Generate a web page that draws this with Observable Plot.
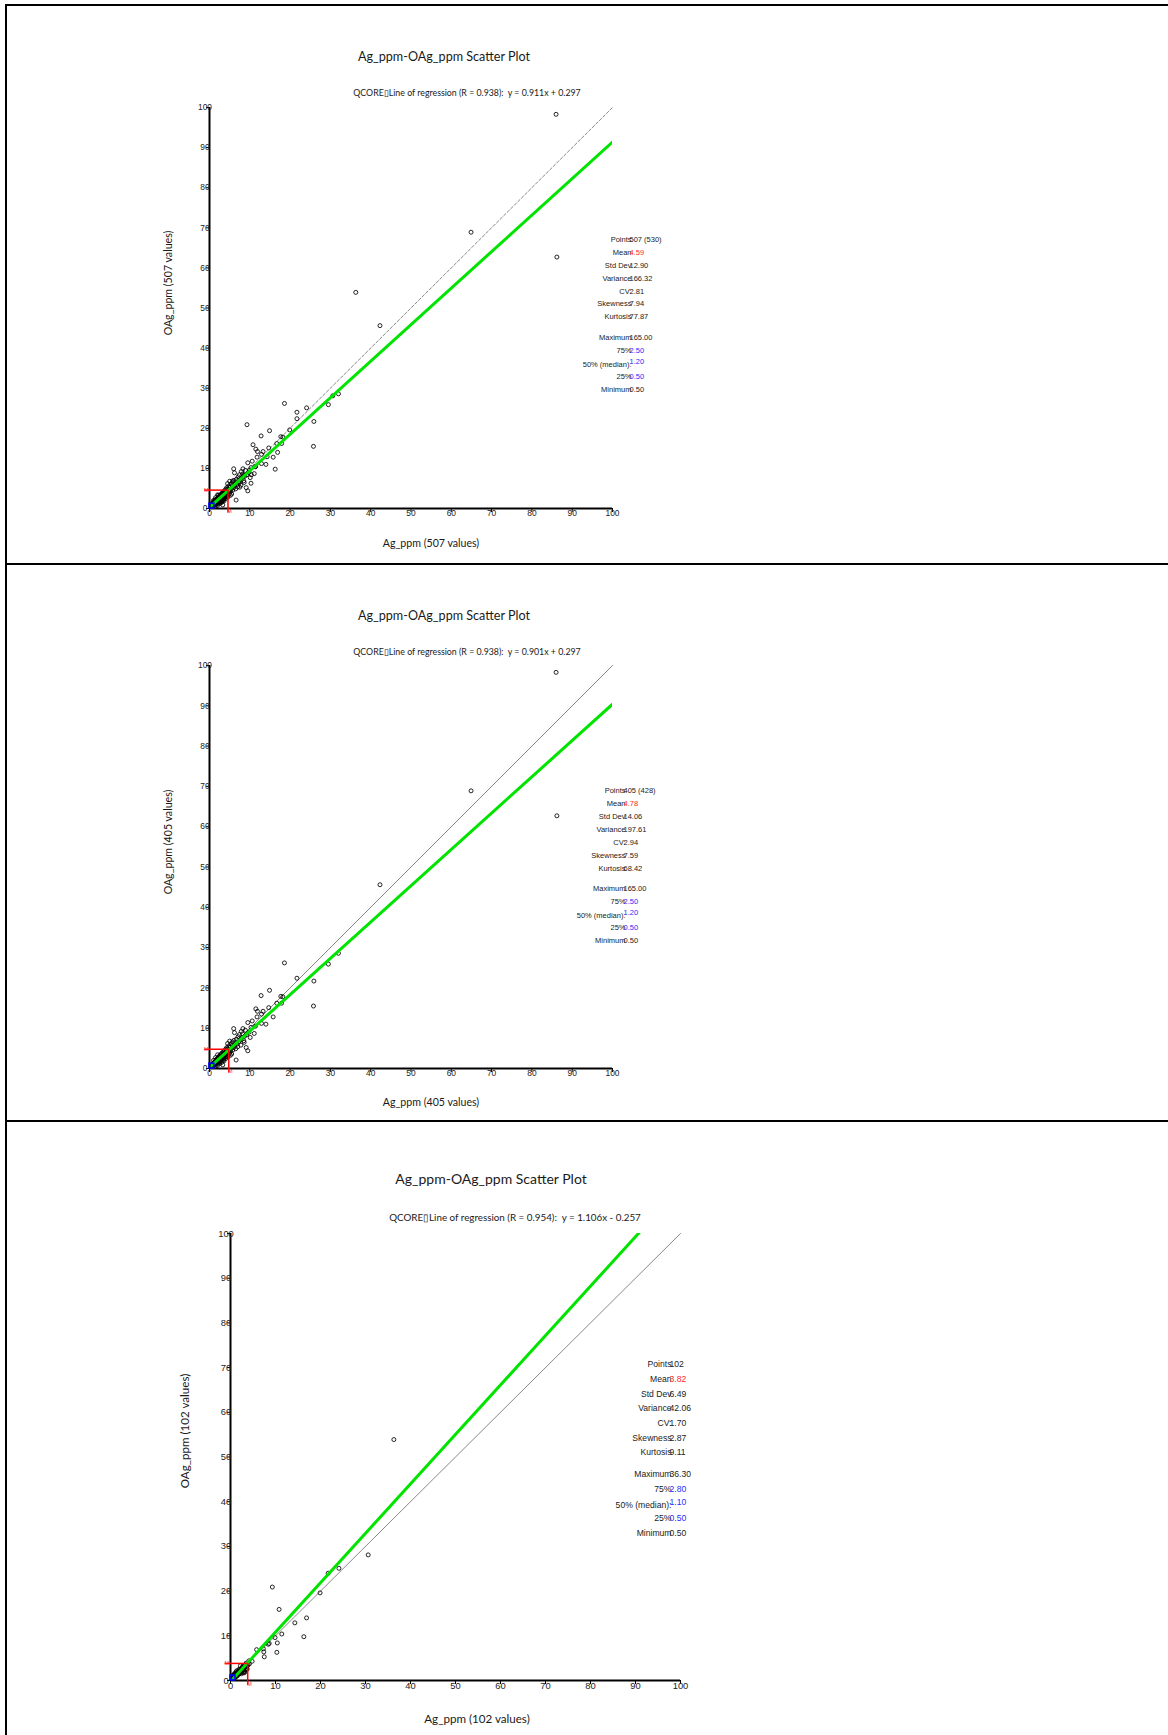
<!DOCTYPE html>
<html><head><meta charset="utf-8">
<script src="https://cdn.jsdelivr.net/npm/d3@7"></script>
<script src="https://cdn.jsdelivr.net/npm/@observablehq/plot@0.6"></script>
<style>
body{margin:0;background:#fff;width:1168px;height:1735px;position:relative;overflow:hidden;}
.abs{position:absolute;white-space:pre;line-height:1;}
.t{font-family:Lato,"Open Sans",sans-serif;color:#1a1a1a;transform:translate(-50%,-50%);}
.ty{font-family:Lato,"Open Sans",sans-serif;color:#1a1a1a;transform:translate(-50%,-50%) rotate(-90deg);}
.ln{position:absolute;background:#000;z-index:10;}
.svgwrap{position:absolute;left:0;}
</style></head><body>
<script>
// ---------------- DATA ----------------
const ticks = [0,10,20,30,40,50,60,70,80,90,100];
const diagonal = [0,100];

// Set A (the 405 values kept in panel 2), [Ag_ppm, OAg_ppm]
const setA_outliers = [
 [86.0,98.3],[64.9,68.9],[86.2,62.7],[42.3,45.6],[32.0,28.6],[29.5,25.9],[18.6,26.2],
 [21.7,22.4],[25.9,21.7],[25.8,15.5],[14.9,19.4],[12.8,18.1],[17.7,17.9],[18.2,17.8],
 [16.7,16.2],[17.9,16.2],[15.8,12.8],[11.5,14.8],[11.9,14.2],[14.7,15.1],[13.3,14.2],
 [12.9,13.5],[11.8,12.8],[10.6,11.8],[9.5,11.4],[12.9,11.2],[14.0,11.0],[11.1,8.7],
 [10.1,7.7],[9.1,5.2],[9.5,4.4],[6.0,9.9],[6.2,8.9],[8.3,9.9],[8.6,6.5],[6.6,2.1],[3.3,0.9]
];
const setA_cluster = [
 [0.5,0.5],[0.5,0.7],[0.6,0.5],[0.6,0.8],[0.7,0.6],[0.7,1.0],[0.8,0.7],[0.8,1.1],[0.9,0.8],[0.9,1.2],
 [1.0,0.9],[1.0,1.3],[1.1,0.8],[1.1,1.2],[1.2,1.0],[1.2,1.5],[1.3,1.1],[1.3,1.6],[1.4,1.2],[1.4,1.8],
 [1.5,1.0],[1.5,1.4],[1.6,1.9],[1.6,1.3],[1.7,1.6],[1.7,2.2],[1.8,1.4],[1.8,2.0],[1.9,1.7],[1.9,2.4],
 [2.0,1.5],[2.0,2.1],[2.1,1.8],[2.1,2.6],[2.2,2.0],[2.2,1.4],[2.3,2.4],[2.3,2.9],[2.4,1.9],[2.4,2.6],
 [2.5,2.2],[2.5,3.1],[2.6,1.7],[2.6,2.7],[2.7,2.3],[2.7,3.3],[2.8,2.0],[2.8,2.9],[2.9,2.5],[2.9,3.6],
 [3.0,2.2],[3.0,3.0],[3.1,3.8],[3.2,2.6],[3.3,3.4],[3.4,2.1],[3.4,4.1],[3.5,3.0],[3.6,3.7],[3.6,2.4],
 [3.7,4.4],[3.8,3.3],[3.9,2.8],[3.9,4.0],[4.0,4.8],[4.1,3.5],[4.2,3.0],[4.2,4.4],[4.3,5.2],[4.4,3.8],
 [4.5,4.9],[4.6,3.3],[4.7,4.2],[4.8,5.6],[4.9,4.6],[5.0,3.8],[5.1,5.3],[5.2,4.3],[5.3,6.1],[5.4,4.9],
 [5.5,3.6],[5.6,5.6],[5.7,6.6],[5.8,4.6],[6.0,5.2],[6.1,7.0],[6.3,5.8],[6.4,6.4],[6.5,4.9],[6.7,7.3],
 [6.8,6.0],[7.0,5.4],[7.1,7.9],[7.3,6.7],[7.4,8.4],[7.6,7.1],[7.8,5.8],[7.9,9.2],[8.0,7.6],[8.2,8.6],
 [8.5,6.9],[8.7,8.0],[8.9,9.5],[9.2,8.4],[9.8,9.0],[10.3,10.2],[11.4,10.5],[1.0,2.0],[1.5,2.7],[2.0,3.4],
 [1.5,0.6],[2.0,0.8],[2.5,1.2],[3.0,1.5],[3.6,1.9],[4.1,2.5],[4.6,2.9],[5.2,3.3],[4.5,6.2],[5.0,6.8]
];
// Set B (the 102 values of panel 3)
const setB_outliers = [
 [36.3,53.9],[30.6,28.1],[24.1,25.1],[21.7,24.0],[19.9,19.6],[9.3,20.9],[10.8,15.9],[16.9,14.0],
 [14.3,12.9],[11.4,10.4],[16.3,9.8],[9.9,9.6],[10.4,8.4],[10.3,6.3],[8.4,8.1],[8.6,8.3],[7.4,6.4],
 [7.5,5.3],[7.3,7.1],[5.8,6.9],[4.8,4.3]
];
const setB_cluster = [
 [0.5,0.5],[0.5,0.6],[0.5,0.8],[0.6,0.5],[0.6,0.7],[0.7,0.9],[0.7,0.5],[0.8,0.6],[0.8,1.0],[0.9,0.7],
 [0.9,1.1],[1.0,0.8],[1.0,1.2],[1.0,0.6],[1.1,1.0],[1.1,1.4],[1.2,0.9],[1.2,1.3],[1.3,1.1],[1.3,1.6],
 [1.4,1.2],[1.5,1.7],[1.5,1.0],[1.6,1.4],[1.7,1.9],[1.8,1.5],[1.9,2.1],[2.0,1.6],[2.1,2.4],[2.2,3.3],
 [2.2,1.8],[2.4,2.6],[2.5,2.0],[2.6,2.9],[2.8,1.8],[2.8,2.5],[3.0,3.4],[3.1,2.2],[3.3,3.0],[3.5,3.9],
 [3.6,2.7],[3.8,3.3],[0.5,1.0],[0.6,1.2],[0.8,1.4],[1.0,1.6],[1.2,1.9],[1.4,2.2],[0.6,0.6],[0.7,0.7],
 [0.8,0.8],[0.9,0.9],[1.1,1.1],[1.2,1.2],[1.3,1.3],[1.4,1.4],[1.6,1.6],[1.8,1.8],[2.0,2.0],[2.3,2.1],
 [2.6,2.4],[2.9,2.7],[3.2,1.9],[3.4,2.4],[1.9,2.5],[3.0,1.7],[3.7,2.5],[2.7,3.1],[1.6,2.0],[2.4,1.5],
 [3.9,3.6],[4.1,4.4],[0.5,0.7],[0.7,0.6],[1.1,0.9],[1.7,1.3],[2.1,1.7],[2.5,2.8],[3.3,3.5],[3.6,3.2],[4.2,3.7]
];

const titles = ["Ag_ppm-OAg_ppm Scatter Plot","Ag_ppm-OAg_ppm Scatter Plot","Ag_ppm-OAg_ppm Scatter Plot"];
const valueCounts = [507, 405, 102];
const regR = [0.938, 0.938, 0.954];
const regSlope = [0.911, 0.901, 1.106];
const regIntercept = [0.297, 0.297, -0.257];

const statLabels = ["Points","Mean","Std Dev","Variance","CV:","Skewness","Kurtosis","Maximum","75%","50% (median):","25%","Minimum"];
const statValues1 = ["507 (530)","4.59","12.90","166.32","2.81","7.94","77.87","165.00","2.50","1.20","0.50","0.50"];
const statValues2 = ["405 (428)","4.78","14.06","197.61","2.94","7.59","68.42","165.00","2.50","1.20","0.50","0.50"];
const statValues3 = ["102","3.82","6.49","42.06","1.70","2.87","9.11","36.30","2.80","1.10","0.50","0.50"];
const statKind = ["n","mean","n","n","n","n","n","n","q","q","q","n"];
const means = [4.59, 4.78, 3.82];
const medians = [1.20, 1.20, 1.10];

// ---------------- LAYOUT ----------------
const W = 1168;
const layouts = [
 {svgTop:6, svgH:557, f:{l:209,r:612,t:107,b:508}, title:[444,57,12.6], sub:[467,93,8.8],
  yl:[168,283,10.6], xl:[431,543,10.6], tick:8.4, st:{dl:422,dv:420,dy0:132,step:12.9,gap:7.7,fs:7.5}, dash:"3,2"},
 {svgTop:565, svgH:555, f:{l:209,r:612,t:665,b:1068}, title:[444,616,12.6], sub:[467,652,8.8],
  yl:[168,842,10.6], xl:[431,1102,10.6], tick:8.4, st:{dl:416,dv:414,dy0:125,step:13,gap:7,fs:7.5}, dash:null},
 {svgTop:1122, svgH:613, f:{l:230,r:680,t:1233,b:1680}, title:[491,1179,14], sub:[515,1218,9.8],
  yl:[185,1431,11.6], xl:[477,1719,11.6], tick:9.4, st:{dl:441,dv:439,dy0:131,step:14.67,gap:7.3,fs:8.6}, dash:null}
];

const setA = setA_outliers.concat(setA_cluster);
const setB = setB_outliers.concat(setB_cluster);
const pointSets = [setA.concat(setB), setA, setB];
const statSets = [statValues1, statValues2, statValues3];

function addDiv(cls, text, x, y, size){
  const d = document.createElement("div");
  d.className = "abs " + cls;
  d.textContent = text;
  d.style.left = x + "px"; d.style.top = y + "px"; d.style.fontSize = size + "px";
  document.body.appendChild(d);
}

layouts.forEach((L, i) => {
  const f = L.f;
  const pts = pointSets[i];
  const a = regSlope[i], b = regIntercept[i];
  const reg = diagonal.map(x => ({x, y: a * x + b}));
  const m = means[i], md = medians[i];
  const sv = statSets[i];
  const st = L.st;
  const statMarks = [];
  statLabels.forEach((lab, k) => {
    const dy = st.dy0 + k * st.step + (k >= 7 ? st.gap : 0);
    const isMed = k === 9;
    statMarks.push(Plot.text([lab], {frameAnchor:"top-left", dx: st.dl, dy: dy + (isMed ? 1.5 : 0),
      text: d => d, textAnchor:"end", lineAnchor:"middle", fontSize: st.fs, fill:"#222"}));
    const col = statKind[k] === "mean" ? "#ff2a2a" : statKind[k] === "q" ? "#2b2bff" : "#222";
    statMarks.push(Plot.text([sv[k]], {frameAnchor:"top-left", dx: st.dv, dy: dy - (isMed ? 1.5 : 0),
      text: d => d, textAnchor:"start", lineAnchor:"middle", fontSize: st.fs, fill: col}));
  });

  const plot = Plot.plot({
    width: W, height: L.svgH,
    marginLeft: f.l, marginRight: W - f.r, marginTop: f.t - L.svgTop, marginBottom: L.svgTop + L.svgH - f.b,
    x: {domain:[0,100]}, y: {domain:[0,100]},
    style: {fontFamily: "'Liberation Sans', Arial, sans-serif", background: "transparent", color: "#222"},
    marks: [
      Plot.line(diagonal.map(d => ({x:d, y:d})), {x:"x", y:"y", stroke:"#6a6a6a", strokeWidth:0.8, strokeDasharray: L.dash || undefined}),
      Plot.dot(pts, {x: d => d[0], y: d => d[1], r: 2, stroke: "#000", strokeWidth: 0.85, fill: "none", clip: true}),
      Plot.line(reg, {x:"x", y:"y", stroke:"#00e400", strokeWidth:3, clip:true}),
      Plot.ruleX([0], {stroke:"#000", strokeWidth:2}),
      Plot.ruleY([0], {stroke:"#000", strokeWidth:2}),
      Plot.axisX({ticks: ticks, tickFormat: d => String(d), tickSize: 4, tickPadding: -2, fontSize: L.tick, label: null, stroke:"#000"}),
      Plot.axisY({ticks: ticks, tickFormat: d => String(d), tickSize: 3, tickPadding: 1.5, textAnchor: "middle", fontSize: L.tick, label: null, stroke:"#000"}),
      Plot.ruleY([{y:m, x1:-1.2, x2:m}], {y:"y", x1:"x1", x2:"x2", stroke:"#ff0000", strokeWidth:1.5}),
      Plot.ruleX([{x:m, y1:m, y2:-1.1}], {x:"x", y1:"y1", y2:"y2", stroke:"#ff0000", strokeWidth:1.5}),
      Plot.rect([{x1:0, x2:md, y1:0, y2:md}], {x1:"x1", x2:"x2", y1:"y1", y2:"y2", stroke:"#0000ff", strokeWidth:1.6, fill:"none"}),
      Plot.text([{x:-0.8, y:m}], {x:"x", y:"y", text: () => "M", fill:"#ff3030", fontSize:5.5}),
      Plot.text([{x:m + 0.4, y:-0.8}], {x:"x", y:"y", text: () => "M", fill:"#ff3030", fontSize:5.5}),
      ...statMarks
    ]
  });
  const wrap = document.createElement("div");
  wrap.className = "svgwrap";
  wrap.style.top = L.svgTop + "px";
  wrap.appendChild(plot);
  document.body.appendChild(wrap);

  addDiv("t", titles[i], L.title[0], L.title[1], L.title[2]);
  const sgn = b < 0 ? "-" : "+";
  addDiv("t", "QCORE\u25AFLine of regression (R = " + regR[i].toFixed(3) + "):  y = " + a.toFixed(3) + "x " + sgn + " " + Math.abs(b).toFixed(3), L.sub[0], L.sub[1], L.sub[2]);
  addDiv("ty", "OAg_ppm (" + valueCounts[i] + " values)", L.yl[0], L.yl[1], L.yl[2]);
  addDiv("t", "Ag_ppm (" + valueCounts[i] + " values)", L.xl[0], L.xl[1], L.xl[2]);
});

// frame lines
[[5,4,2,1731],[5,4,1163,2],[5,563,1163,2],[5,1120,1163,2]].forEach(r => {
  const d = document.createElement("div");
  d.className = "ln";
  d.style.left = r[0]+"px"; d.style.top = r[1]+"px"; d.style.width = r[2]+"px"; d.style.height = r[3]+"px";
  document.body.appendChild(d);
});
</script>
</body></html>
